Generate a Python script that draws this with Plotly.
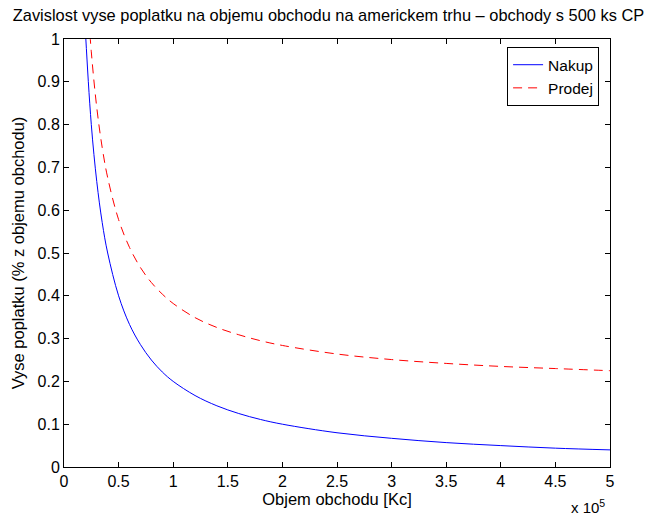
import plotly.graph_objects as go

# Trade volume [Kc]
x_buy = [18000, 20000, 25000, 30000, 35000, 40000, 50000, 60000, 70000, 80000, 90000,
         100000, 120000, 140000, 160000, 180000, 200000, 250000, 300000, 350000,
         400000, 450000, 500000]
y_buy = [1.11, 1.0, 0.80, 0.667, 0.571, 0.50, 0.40, 0.333, 0.286, 0.25, 0.222,
         0.20, 0.167, 0.143, 0.125, 0.111, 0.10, 0.08, 0.067, 0.057,
         0.05, 0.044, 0.04]

x_sell = [22000, 25000, 30000, 35000, 40000, 50000, 60000, 70000, 80000, 90000,
          100000, 120000, 140000, 160000, 180000, 200000, 250000, 300000, 350000,
          400000, 450000, 500000]
y_sell = [1.08, 0.97, 0.84, 0.746, 0.676, 0.578, 0.513, 0.466, 0.431, 0.404,
          0.382, 0.349, 0.326, 0.309, 0.295, 0.284, 0.264, 0.251, 0.242,
          0.235, 0.230, 0.225]

x_ticks = [0, 50000, 100000, 150000, 200000, 250000, 300000, 350000, 400000, 450000, 500000]
x_ticktext = ["0", "0.5", "1", "1.5", "2", "2.5", "3", "3.5", "4", "4.5", "5"]
y_ticks = [0, 0.1, 0.2, 0.3, 0.4, 0.5, 0.6, 0.7, 0.8, 0.9, 1]
y_ticktext = ["0", "0.1", "0.2", "0.3", "0.4", "0.5", "0.6", "0.7", "0.8", "0.9", "1"]

FONT = "Liberation Sans, Arial, sans-serif"

fig = go.Figure()
fig.add_trace(go.Scatter(x=x_buy, y=y_buy, mode="lines", name="Nakup",
                         line=dict(color="#0000ff", width=1, shape="spline")))
fig.add_trace(go.Scatter(x=x_sell, y=y_sell, mode="lines", name="Prodej",
                         line=dict(color="#ff0000", width=1, dash="9px,6px", shape="spline")))

axis_common = dict(showline=True, linecolor="black", linewidth=1, mirror="allticks",
                   ticks="inside", ticklen=5, tickcolor="black", showgrid=False,
                   zeroline=False, tickfont=dict(family=FONT, size=16, color="black"))

fig.update_layout(
    width=658, height=517,
    margin=dict(l=64, r=48, t=39, b=50),
    paper_bgcolor="white", plot_bgcolor="white",
    font=dict(family=FONT, size=16, color="black"),
    title=dict(text="Zavislost vyse poplatku na objemu obchodu na americkem trhu \u2013 obchody s 500 ks CP",
               x=(12 + 645) / 2 / 658, xref="container", xanchor="center", y=1 - 15 / 517, yanchor="middle",
               font=dict(family=FONT, size=16.4, color="black")),
    xaxis=dict(range=[0, 500000], tickvals=x_ticks, ticktext=x_ticktext,
               title=dict(text="Objem obchodu [Kc]", standoff=2,
                          font=dict(family=FONT, size=16.5)), **axis_common),
    yaxis=dict(range=[0, 1], tickvals=y_ticks, ticktext=y_ticktext,
               title=dict(text="Vyse poplatku (% z objemu obchodu)", standoff=8,
                          font=dict(family=FONT, size=16.5)), **axis_common),
    legend=dict(x=0.98, y=0.981, xanchor="right", yanchor="top",
                bordercolor="black", borderwidth=1, bgcolor="white",
                font=dict(family=FONT, size=15.5), tracegroupgap=0),
    showlegend=True,
)

fig.add_annotation(text="x 10<sup>5</sup>", xref="paper", yref="paper",
                   x=(569 - 64) / 546, y=(467 - 506) / 428, xanchor="left", yanchor="middle",
                   showarrow=False,
                   font=dict(family=FONT, size=15, color="black"))

fig.write_html("out.html")
